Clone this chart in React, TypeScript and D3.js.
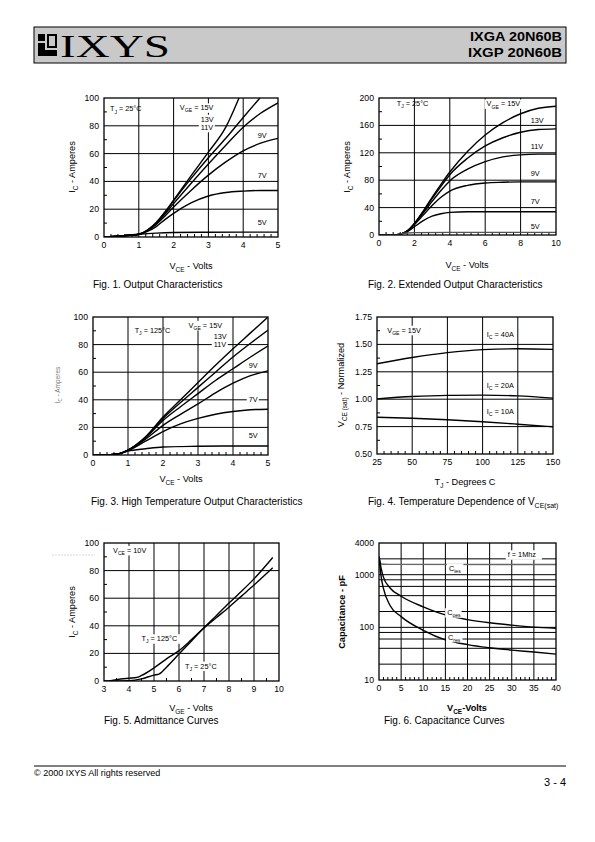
import React from "react";
import * as d3 from "d3";

type P = [number, number];
type Seg = { t: string; sub?: boolean };

const FONT = "'Liberation Sans', Arial, Helvetica, sans-serif";

// ---------- DATA ----------
// Fig 1: Output characteristics, Tj = 25°C (VCE V, IC A)
const fig1_15V: P[] = [[0,0],[0.5,0.8],[1,2],[1.25,5],[1.5,10.5],[1.75,18],[2,26.5],[2.5,44],[3,61],[3.5,79],[3.88,100]];
const fig1_13V: P[] = [[0,0],[0.5,0.8],[1,2],[1.25,5],[1.5,10],[1.75,17.5],[2,26],[2.5,42],[3,57],[3.5,71],[4,86],[4.48,100]];
const fig1_11V: P[] = [[0,0],[0.5,0.8],[1,2],[1.25,4.5],[1.5,9.5],[1.75,16.5],[2,24],[2.5,38.5],[3,52.5],[3.5,66],[4,79],[4.5,89],[5,96.5]];
const fig1_9V: P[] = [[0,0],[0.5,0.8],[1,2],[1.25,4.5],[1.5,9],[1.75,15],[2,21.5],[2.5,33.5],[3,44.5],[3.5,54],[4,62],[4.5,67.5],[5,71]];
const fig1_7V: P[] = [[0,0],[0.5,0.8],[1,2],[1.25,4],[1.5,7.5],[1.75,12.5],[2,17],[2.5,24.5],[3,29.5],[3.5,32],[4,33],[4.5,33.5],[5,33.5]];
const fig1_5V: P[] = [[0,0],[0.5,0.8],[1,2],[1.5,2.8],[2,3.2],[3,3.4],[4,3.5],[5,3.5]];

// Fig 2: Extended output characteristics
const fig2_15V: P[] = [[0,0],[1,0.5],[1.3,2],[1.6,6],[2,17],[2.5,35],[3,55],[3.5,74],[4,92],[5,122],[6,146],[7,164],[8,177],[9,185],[10,188]];
const fig2_13V: P[] = [[0,0],[1,0.5],[1.3,2],[1.6,6],[2,16.5],[2.5,34],[3,53],[3.5,71],[4,88],[5,112],[6,130],[7,142],[8,150],[9,154],[10,155]];
const fig2_11V: P[] = [[0,0],[1,0.5],[1.3,2],[1.6,6],[2,16],[2.5,32],[3,49],[3.5,65],[4,79],[5,96],[6,107],[7,114],[8,117],[9,118],[10,118]];
const fig2_9V: P[] = [[0,0],[1,0.5],[1.3,2],[1.6,5.5],[2,15],[2.5,29],[3,43],[3.5,55],[4,64],[5,72.5],[6,76],[7,77],[8,77.5],[10,77.5]];
const fig2_7V: P[] = [[0,0],[1,0.5],[1.3,2],[1.6,5],[2,12],[2.5,21],[3,27.5],[3.5,31],[4,33],[5,34],[6,34],[10,34]];
const fig2_5V: P[] = [[0,0],[1,0.5],[1.3,2],[1.6,3],[2,3.5],[4,3.8],[10,3.8]];

// Fig 3: High temperature output characteristics, Tj = 125°C
const fig3_15V: P[] = [[0,0],[0.5,0.3],[0.75,1],[1,3.5],[1.5,13],[2,27.5],[2.5,40],[3,52.5],[3.5,65],[4,77],[4.5,88.5],[5,100]];
const fig3_13V: P[] = [[0,0],[0.5,0.3],[0.75,1],[1,3.5],[1.5,13],[2,26.5],[2.5,38],[3,49],[3.5,60],[4,71],[4.5,81],[5,90.5]];
const fig3_11V: P[] = [[0,0],[0.5,0.3],[0.75,1],[1,3.5],[1.5,12.5],[2,25],[2.5,35],[3,44.5],[3.5,54],[4,62.5],[4.5,71],[5,79]];
const fig3_9V: P[] = [[0,0],[0.5,0.3],[0.75,1],[1,3.5],[1.5,11.5],[2,21.5],[2.5,29.5],[3,37],[3.5,45],[4,52],[4.5,57.5],[5,61]];
const fig3_7V: P[] = [[0,0],[0.5,0.3],[0.75,1],[1,3.2],[1.5,10],[2,17],[2.5,22.5],[3,26.5],[3.5,29.5],[4,31.5],[4.5,32.8],[5,33.2]];
const fig3_5V: P[] = [[0,0],[0.5,0.3],[0.75,1],[1,2.8],[1.5,4.5],[2,5.8],[3,6.3],[4,6.5],[5,6.5]];

// Fig 4: Temperature dependence of VCE(sat), normalized
const fig4_T = [25, 50, 75, 100, 125, 150];
const fig4_40A = [1.323, 1.38, 1.425, 1.452, 1.46, 1.455];
const fig4_20A = [1.003, 1.024, 1.035, 1.037, 1.03, 1.01];
const fig4_10A = [0.835, 0.826, 0.812, 0.794, 0.772, 0.748];

// Fig 5: Admittance curves (VGE V, IC A)
const fig5_25C: P[] = [[3,0],[3.5,0],[4,0.2],[4.5,1.5],[5,4.3],[5.2,5],[5.5,10],[6,19.5],[6.5,29],[7,38.5],[7.5,47.5],[8,56.5],[8.5,65],[9,74],[9.75,89.5]];
const fig5_125C: P[] = [[3.2,0],[3.5,1],[4,2],[4.3,2.5],[4.5,4],[5,9.5],[5.5,16],[6,22],[6.5,30],[7,38.5],[7.5,46],[8,53.5],[8.5,61.5],[9,69.5],[9.75,82]];

// Fig 6: Capacitance curves (VCE V, C pF)
const fig6_Cies: P[] = [[0,2200],[0.5,1600],[2,1570],[40,1560]];
const fig6_Coes: P[] = [[0,2200],[0.5,1300],[1,900],[2.5,560],[5,390],[10,245],[15,172],[20,140],[25,122],[30,110],[35,101],[40,96]];
const fig6_Cres: P[] = [[0,2200],[0.5,900],[1,550],[2.5,260],[5,160],[10,88],[15,58],[20,47],[25,41],[30,37],[35,34],[40,31]];

// tick labels
const ticksV5 = [0, 1, 2, 3, 4, 5];
const ticksI100 = [0, 20, 40, 60, 80, 100];
const ticksV10 = [0, 2, 4, 6, 8, 10];
const ticksI200 = [0, 40, 80, 120, 160, 200];
const ticksT = [25, 50, 75, 100, 125, 150];
const ticksN = [0.5, 0.75, 1.0, 1.25, 1.5, 1.75];
const ticksVGE = [3, 4, 5, 6, 7, 8, 9, 10];
const ticksV40 = [0, 5, 10, 15, 20, 25, 30, 35, 40];
const ticksC = [10, 100, 1000, 4000];

// ---------- helpers ----------
const range = (a: number, b: number, s: number) => {
  const out: number[] = [];
  for (let v = a; v <= b + 1e-9; v += s) out.push(+v.toFixed(4));
  return out;
};

const SUB = 0.7;

function Rich({ segs, x, y, size, anchor = "start", weight = "normal", fill = "#000", transform }: any) {
  let prev = 0;
  const shift = size * 0.3;
  return (
    <text x={x} y={y} fontSize={size} textAnchor={anchor} fontWeight={weight} fill={fill} transform={transform} fontFamily={FONT}>
      {segs.map((s: Seg, i: number) => {
        const cur = s.sub ? shift : 0;
        const dy = cur - prev;
        prev = cur;
        return (
          <tspan key={i} dy={dy} fontSize={s.sub ? size * SUB : size}>
            {s.t}
          </tspan>
        );
      })}
    </text>
  );
}

function textWidth(segs: Seg[], size: number) {
  return segs.reduce((w, s) => w + s.t.length * (s.sub ? size * SUB : size) * 0.55, 0);
}

type Ann = { x: number; y: number; segs: Seg[]; bg?: boolean };
type Series = { pts: P[]; color?: string; w?: number };

interface ChartProps {
  id: string;
  left: number; top: number; width: number; height: number;
  xDomain: [number, number]; yDomain: [number, number]; yLog?: boolean;
  xTicks: number[]; yTicks: number[];
  xFmt?: (v: number) => string; yFmt?: (v: number) => string;
  xGrid: number[]; yGrid: number[];
  xMinor: number[]; yMinor: number[];
  series: Series[];
  anns: Ann[];
  annSize?: number;
}

function Chart(p: ChartProps) {
  const x = d3.scaleLinear().domain(p.xDomain).range([p.left, p.left + p.width]);
  const y = (p.yLog ? d3.scaleLog() : d3.scaleLinear()).domain(p.yDomain).range([p.top + p.height, p.top]);
  const line = d3.line<P>().x(d => x(d[0])).y(d => y(d[1])).curve(d3.curveMonotoneX);
  const bottom = p.top + p.height;
  const right = p.left + p.width;
  const as = p.annSize ?? 7.3;
  const xf = p.xFmt ?? ((v: number) => String(v));
  const yf = p.yFmt ?? ((v: number) => String(v));
  return (
    <g>
      <defs>
        <clipPath id={p.id}>
          <rect x={p.left} y={p.top} width={p.width} height={p.height} />
        </clipPath>
      </defs>
      {p.xGrid.map(v => (
        <line key={"xg" + v} x1={x(v)} x2={x(v)} y1={p.top} y2={bottom} stroke="#000" strokeWidth={1} />
      ))}
      {p.yGrid.map(v => (
        <line key={"yg" + v} x1={p.left} x2={right} y1={y(v)} y2={y(v)} stroke="#000" strokeWidth={1} />
      ))}
      {p.xMinor.map(v => (
        <line key={"xm" + v} x1={x(v)} x2={x(v)} y1={bottom} y2={bottom - 3} stroke="#000" strokeWidth={1} />
      ))}
      {p.yMinor.map(v => (
        <line key={"ym" + v} x1={p.left} x2={p.left + 3} y1={y(v)} y2={y(v)} stroke="#000" strokeWidth={1} />
      ))}
      <g clipPath={`url(#${p.id})`}>
        {p.series.map((s, i) => (
          <path key={i} d={line(s.pts) || ""} fill="none" stroke={s.color ?? "#000"} strokeWidth={s.w ?? 1.4} />
        ))}
      </g>
      <rect x={p.left} y={p.top} width={p.width} height={p.height} fill="none" stroke="#000" strokeWidth={1.3} />
      {p.anns.map((a, i) => {
        const px = x(a.x);
        const py = y(a.y);
        const w = textWidth(a.segs, as);
        return (
          <g key={"a" + i}>
            {a.bg && <rect x={px - 2} y={py - as * 0.6} width={w + 4} height={as * 1.3} fill="#fff" />}
            <Rich segs={a.segs} x={px} y={py + as * 0.35} size={as} />
          </g>
        );
      })}
      {p.xTicks.map(v => (
        <text key={"xt" + v} x={x(v)} y={bottom + 11} fontSize={8.7} textAnchor="middle" fontFamily={FONT}>
          {xf(v)}
        </text>
      ))}
      {p.yTicks.map(v => (
        <text key={"yt" + v} x={p.left - 5} y={y(v) + 3} fontSize={8.7} textAnchor="end" fontFamily={FONT}>
          {yf(v)}
        </text>
      ))}
    </g>
  );
}

const S = (t: string, sub = false): Seg => ({ t, sub });
const fig4Pts = (vals: number[]): P[] => fig4_T.map((t, i) => [t, vals[i]]);

export default function App() {
  const capSize = 10;
  const axSize = 9.2;
  return (
    <svg
      width={595}
      height={842}
      viewBox="0 0 595 842"
      style={{ position: "absolute", left: 0, top: 0, background: "#fff" }}
      fontFamily={FONT}
    >
      <rect x={0} y={0} width={595} height={842} fill="#fff" />
      {/* Header */}
      <rect x={34} y={27} width={532} height={36} fill="#c9c9c9" stroke="#000" strokeWidth={1} />
      <g>
        <rect x={38} y={34} width={19} height={22} fill="#000" />
        <rect x={45} y={34} width={2} height={16} fill="#c9c9c9" />
        <rect x={38} y={41} width={7} height={2} fill="#c9c9c9" />
        <rect x={45} y={48} width={12} height={2} fill="#c9c9c9" />
        <rect x={49} y={36} width={6} height={10} fill="#c9c9c9" />
      </g>
      <text x={60} y={56.5} fontSize={32} fontFamily="'Liberation Serif', 'DejaVu Serif', serif" textLength={110} lengthAdjust="spacingAndGlyphs">
        IXYS
      </text>
      <text x={562} y={41} fontSize={13} fontWeight="bold" textAnchor="end" fontFamily="'Liberation Sans Narrow', 'Liberation Sans', Arial, sans-serif" textLength={92} lengthAdjust="spacingAndGlyphs">
        IXGA 20N60B
      </text>
      <text x={562} y={57} fontSize={13} fontWeight="bold" textAnchor="end" fontFamily="'Liberation Sans Narrow', 'Liberation Sans', Arial, sans-serif" textLength={94} lengthAdjust="spacingAndGlyphs">
        IXGP 20N60B
      </text>

      {/* Fig 1 */}
      <Chart
        id="c1" left={104} top={98} width={174} height={139}
        xDomain={[0, 5]} yDomain={[0, 100]}
        xTicks={ticksV5} yTicks={ticksI100}
        xGrid={[1, 2, 3, 4]} yGrid={[20, 40, 60, 80]}
        xMinor={range(0.2, 4.8, 0.2).filter(v => Math.abs(v - Math.round(v)) > 0.01)}
        yMinor={[10, 30, 50, 70, 90]}
        series={[{ pts: fig1_15V }, { pts: fig1_13V }, { pts: fig1_11V }, { pts: fig1_9V }, { pts: fig1_7V }, { pts: fig1_5V }]}
        anns={[
          { x: 0.17, y: 92.2, segs: [S("T"), S("J", true), S(" = 25°C")] },
          { x: 2.18, y: 93, segs: [S("V"), S("GE", true), S(" = 15V")], bg: true },
          { x: 2.78, y: 84.8, segs: [S("13V")], bg: true },
          { x: 2.78, y: 79, segs: [S("11V")], bg: true },
          { x: 4.42, y: 73, segs: [S("9V")] },
          { x: 4.42, y: 44, segs: [S("7V")] },
          { x: 4.42, y: 10.4, segs: [S("5V")] },
        ]}
      />
      <Rich segs={[S("I"), S("C", true), S(" - Amperes")]} x={0} y={0} size={axSize} anchor="middle" transform="translate(75,167) rotate(-90)" />
      <Rich segs={[S("V"), S("CE", true), S(" - Volts")]} x={191} y={269} size={axSize} anchor="middle" />
      <text x={93} y={288} fontSize={capSize} fontFamily={FONT}>Fig. 1. Output Characteristics</text>

      {/* Fig 2 */}
      <Chart
        id="c2" left={379} top={98} width={177} height={137}
        xDomain={[0, 10]} yDomain={[0, 200]}
        xTicks={ticksV10} yTicks={ticksI200}
        xGrid={[2, 4, 6, 8]} yGrid={[40, 80, 120, 160]}
        xMinor={range(0.4, 9.6, 0.4).filter(v => Math.abs(v / 2 - Math.round(v / 2)) > 0.01)}
        yMinor={[20, 60, 100, 140, 180]}
        series={[{ pts: fig2_15V }, { pts: fig2_13V }, { pts: fig2_11V }, { pts: fig2_9V }, { pts: fig2_7V }, { pts: fig2_5V, color: "#555" }]}
        anns={[
          { x: 1.0, y: 192.7, segs: [S("T"), S("J", true), S(" = 25°C")] },
          { x: 6.08, y: 191.5, segs: [S("V"), S("GE", true), S(" = 15V")], bg: true },
          { x: 8.57, y: 167, segs: [S("13V")] },
          { x: 8.57, y: 130, segs: [S("11V")] },
          { x: 8.57, y: 90, segs: [S("9V")] },
          { x: 8.57, y: 48.7, segs: [S("7V")] },
          { x: 8.57, y: 12, segs: [S("5V")] },
        ]}
      />
      <Rich segs={[S("I"), S("C", true), S(" - Amperes")]} x={0} y={0} size={axSize} anchor="middle" transform="translate(350,167) rotate(-90)" />
      <Rich segs={[S("V"), S("CE", true), S(" - Volts")]} x={467} y={268} size={axSize} anchor="middle" />
      <text x={368} y={288} fontSize={capSize} fontFamily={FONT}>Fig. 2. Extended Output Characteristics</text>

      {/* Fig 3 */}
      <Chart
        id="c3" left={93} top={317} width={175} height={138}
        xDomain={[0, 5]} yDomain={[0, 100]}
        xTicks={ticksV5} yTicks={ticksI100}
        xGrid={[1, 2, 3, 4]} yGrid={[20, 40, 60, 80]}
        xMinor={range(0.2, 4.8, 0.2).filter(v => Math.abs(v - Math.round(v)) > 0.01)}
        yMinor={[10, 30, 50, 70, 90]}
        series={[{ pts: fig3_15V }, { pts: fig3_13V }, { pts: fig3_11V }, { pts: fig3_9V }, { pts: fig3_7V }, { pts: fig3_5V }]}
        anns={[
          { x: 1.19, y: 90.4, segs: [S("T"), S("J", true), S(" = 125°C")] },
          { x: 2.73, y: 94, segs: [S("V"), S("GE", true), S(" = 15V")], bg: true },
          { x: 3.45, y: 86, segs: [S("13V")], bg: true },
          { x: 3.45, y: 80, segs: [S("11V")], bg: true },
          { x: 4.45, y: 65, segs: [S("9V")] },
          { x: 4.45, y: 40.3, segs: [S("7V")], bg: true },
          { x: 4.45, y: 14, segs: [S("5V")] },
        ]}
      />
      <Rich segs={[S("I"), S("C", true), S(" - Amperes")]} x={0} y={0} size={6.5} anchor="middle" fill="#777" transform="translate(60,385) rotate(-90)" />
      <Rich segs={[S("V"), S("CE", true), S(" - Volts")]} x={181} y={482} size={axSize} anchor="middle" />
      <text x={91} y={505} fontSize={capSize} fontFamily={FONT}>Fig. 3. High Temperature Output Characteristics</text>

      {/* Fig 4 */}
      <Chart
        id="c4" left={377} top={317} width={176} height={137}
        xDomain={[25, 150]} yDomain={[0.5, 1.75]}
        xTicks={ticksT} yTicks={ticksN}
        yFmt={v => v.toFixed(2)}
        xGrid={[50, 75, 100, 125]} yGrid={[0.75, 1.0, 1.25, 1.5]}
        xMinor={range(30, 145, 5).filter(v => v % 25 !== 0)}
        yMinor={[0.625, 0.875, 1.125, 1.375, 1.625]}
        series={[{ pts: fig4Pts(fig4_40A) }, { pts: fig4Pts(fig4_20A) }, { pts: fig4Pts(fig4_10A) }]}
        anns={[
          { x: 32.3, y: 1.63, segs: [S("V"), S("GE", true), S(" = 15V")], bg: true },
          { x: 103, y: 1.594, segs: [S("I"), S("C", true), S(" = 40A")] },
          { x: 103, y: 1.13, segs: [S("I"), S("C", true), S(" = 20A")] },
          { x: 103, y: 0.887, segs: [S("I"), S("C", true), S(" = 10A")] },
        ]}
      />
      <Rich segs={[S("V"), S("CE (sat)", true), S(" - Normalized")]} x={0} y={0} size={axSize} anchor="middle" transform="translate(344,385) rotate(-90)" />
      <Rich segs={[S("T"), S("J", true), S(" - Degrees C")]} x={465} y={485} size={axSize} anchor="middle" />
      <Rich segs={[S("Fig. 4. Temperature Dependence of V"), S("CE(sat)", true)]} x={368} y={505} size={capSize} />

      {/* Fig 5 */}
      <line x1={52} x2={95} y1={555} y2={555} stroke="#ccc" strokeWidth={0.8} strokeDasharray="2 1" />
      <Chart
        id="c5" left={104} top={543} width={175} height={138}
        xDomain={[3, 10]} yDomain={[0, 100]}
        xTicks={ticksVGE} yTicks={ticksI100}
        xGrid={[4, 5, 6, 7, 8, 9]} yGrid={[20, 40, 60, 80]}
        xMinor={range(3.5, 9.5, 1)}
        yMinor={[10, 30, 50, 70, 90]}
        series={[{ pts: fig5_25C }, { pts: fig5_125C }]}
        anns={[
          { x: 3.36, y: 94.7, segs: [S("V"), S("CE", true), S(" = 10V")], bg: true },
          { x: 4.5, y: 30.7, segs: [S("T"), S("J", true), S(" = 125°C")], bg: true },
          { x: 6.24, y: 10.9, segs: [S("T"), S("J", true), S(" = 25°C")], bg: true },
        ]}
      />
      <Rich segs={[S("I"), S("C", true), S(" - Amperes")]} x={0} y={0} size={axSize} anchor="middle" transform="translate(75,612) rotate(-90)" />
      <Rich segs={[S("V"), S("GE", true), S(" - Volts")]} x={191} y={711} size={axSize} anchor="middle" />
      <text x={104} y={724} fontSize={capSize} fontFamily={FONT}>Fig. 5. Admittance Curves</text>

      {/* Fig 6 */}
      <Chart
        id="c6" left={379} top={543} width={177} height={137}
        xDomain={[0, 40]} yDomain={[10, 4000]} yLog
        xTicks={ticksV40} yTicks={ticksC}
        xGrid={[5, 10, 15, 20, 25, 30, 35]} yGrid={[20, 40, 60, 80, 100, 200, 400, 600, 800, 1000, 2000]}
        xMinor={range(1, 39, 1).filter(v => v % 5 !== 0)}
        yMinor={[]}
        series={[{ pts: fig6_Cies, color: "#666" }, { pts: fig6_Coes }, { pts: fig6_Cres }]}
        anns={[
          { x: 29.1, y: 2400, segs: [S("f = 1Mhz")], bg: true },
          { x: 15.8, y: 1343, segs: [S("C"), S("ies", true)], bg: true },
          { x: 15.4, y: 191, segs: [S("C"), S("oes", true)], bg: true },
          { x: 15.6, y: 65, segs: [S("C"), S("res", true)], bg: true },
        ]}
      />
      <text transform="translate(345,612) rotate(-90)" fontSize={axSize} fontWeight="bold" textAnchor="middle" fontFamily={FONT}>Capacitance - pF</text>
      <Rich segs={[S("V"), S("CE", true), S("-Volts")]} x={467} y={711} size={axSize} anchor="middle" weight="bold" />
      <text x={384} y={724} fontSize={capSize} fontFamily={FONT}>Fig. 6. Capacitance Curves</text>

      {/* Footer */}
      <line x1={34} x2={566} y1={766} y2={766} stroke="#000" strokeWidth={1} />
      <text x={34} y={776} fontSize={9} fontFamily={FONT}>© 2000 IXYS All rights reserved</text>
      <text x={566} y={786} fontSize={11} textAnchor="end" fontFamily={FONT}>3 - 4</text>
    </svg>
  );
}
